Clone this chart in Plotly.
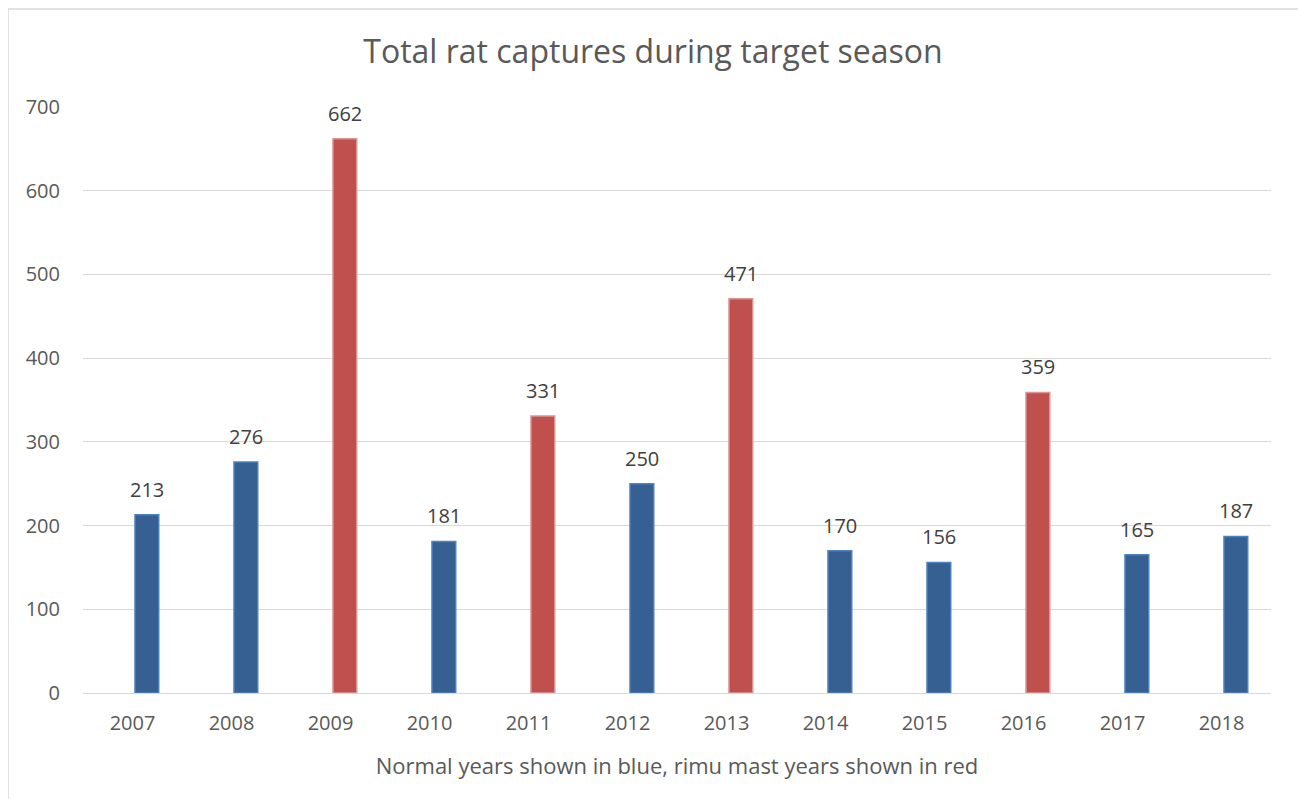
import plotly.graph_objects as go

# data
years = ["2007", "2008", "2009", "2010", "2011", "2012",
         "2013", "2014", "2015", "2016", "2017", "2018"]
captures = [213, 276, 662, 181, 331, 250, 471, 170, 156, 359, 165, 187]
mast_years = ["2009", "2011", "2013", "2016"]

# page has an 8px body margin, so draw the figure 16px smaller
W, H = 1290, 791
L, R, T, B = 75, 27, 99, 106
pw, ph = W - L - R, H - T - B

fill = ["#C0504D" if y in mast_years else "#366092" for y in years]
edge = ["#D99694" if y in mast_years else "#4F81BD" for y in years]

# bars sit a little right of the tick label (like an Excel clustered slot)
BAR_W, BAR_OFF = 0.24, 0.025

fig = go.Figure(go.Bar(
    x=years, y=captures,
    width=BAR_W, offset=BAR_OFF,
    marker=dict(color=fill, line=dict(color=edge, width=1.5)),
))

# value labels above the bars (annotations so they are not shrunk to bar width);
# on a category axis annotations take the category index
for i, v in enumerate(captures):
    fig.add_annotation(x=i + BAR_OFF + BAR_W / 2, y=v, text=str(v),
                       showarrow=False, yanchor="bottom", yshift=10,
                       font=dict(size=20, color="#404040"))

fig.update_layout(
    width=W, height=H,
    margin=dict(l=L, r=R, t=T, b=B),
    paper_bgcolor="white", plot_bgcolor="white",
    font=dict(family="Open Sans, sans-serif", color="#595959"),
    title=dict(text="Total rat captures during target season",
               x=0.5, xanchor="center", y=1 - 44 / H, yanchor="middle",
               font=dict(size=32, color="#595959")),
    showlegend=False,
)
fig.update_xaxes(
    type="category", range=[-0.5, len(years) - 0.5],
    title=dict(text="Normal years shown in blue, rimu mast years shown in red",
               font=dict(size=22, color="#595959"), standoff=23),
    tickfont=dict(size=20, color="#595959"),
    showline=False, ticks="", ticklabelstandoff=16,
)
fig.update_yaxes(
    range=[0, 700], dtick=100,
    gridcolor="#D9D9D9", gridwidth=1,
    zeroline=True, zerolinecolor="#D9D9D9", zerolinewidth=1,
    tickfont=dict(size=20, color="#595959"),
    ticks="", ticklabelstandoff=22,
)

# outer chart border
fig.add_shape(type="rect", xref="paper", yref="paper",
              x0=(0 - L) / pw, x1=(1291 - L) / pw,
              y0=(H - B - 792) / ph, y1=(H - B - 1) / ph,
              line=dict(color="#D9D9D9", width=1.5), layer="below")

fig.write_html("out.html")
